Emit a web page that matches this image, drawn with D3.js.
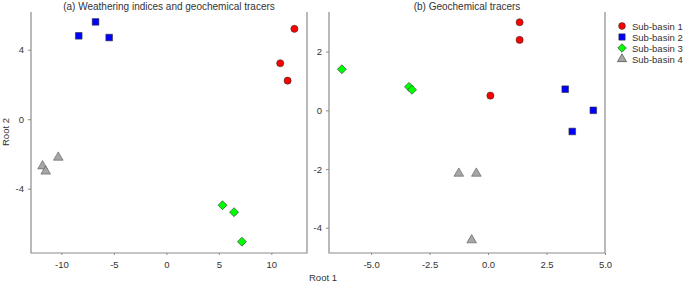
<!DOCTYPE html>
<html>
<head>
<meta charset="utf-8">
<script src="https://cdn.jsdelivr.net/npm/d3@7"></script>
<style>
  body { margin: 0; background: #fff; }
  svg text { font-family: "Liberation Sans", Arial, sans-serif; fill: #333; }
</style>
</head>
<body>
<svg id="chart" width="684" height="288"></svg>
<script>
const width = 684,
  height = 288;

const groups = ["Sub-basin 1", "Sub-basin 2", "Sub-basin 3", "Sub-basin 4"];
const colors = ["#ff0000", "#0000ff", "#00ff00", "#a6a6a6"];
const shapes = [d3.symbolCircle, d3.symbolSquare, d3.symbolSquare, d3.symbolTriangle];
const sizes = [40, 44, 40, 40];
const rotations = [0, 0, 45, 0];

// panel (a): weathering indices and geochemical tracers
const aGroup = [0, 0, 0, 1, 1, 1, 2, 2, 2, 3, 3, 3];
const aRoot1 = [12.2, 10.85, 11.55, -8.35, -6.75, -5.45, 5.35, 6.45, 7.2, -10.3, -11.8, -11.5];
const aRoot2 = [5.2, 3.22, 2.22, 4.8, 5.6, 4.7, -4.95, -5.35, -7.05, -2.2, -2.7, -3.0];

// panel (b): geochemical tracers
const bGroup = [0, 0, 0, 1, 1, 1, 2, 2, 2, 3, 3, 3];
const bRoot1 = [1.35, 1.35, 0.1, 3.3, 4.5, 3.6, -6.25, -3.38, -3.25, -1.25, -0.5, -0.7];
const bRoot2 = [3.0, 2.4, 0.5, 0.72, 0.0, -0.72, 1.4, 0.8, 0.7, -2.15, -2.15, -4.42];

const aXTicks = [-10, -5, 0, 5, 10];
const aYTicks = [-4, 0, 4];
const bXTicks = [-5, -2.5, 0, 2.5, 5];
const bYTicks = [-4, -2, 0, 2];

const svg = d3.select("#chart");

// plain hyphen for negatives, as in the original figure
const intFmt = (d) => d3.format("d")(d).replace("−", "-");
const oneFmt = (d) => d3.format(".1f")(d).replace("−", "-");

function panel(opts) {
  const { left, right, top, bottom, xDomain, yDomain, xTicks, yTicks, xFmt, title } = opts;
  const x = d3.scaleLinear().domain(xDomain).range([left, right]);
  const y = d3.scaleLinear().domain(yDomain).range([bottom, top]);
  const g = svg.append("g");

  // frame: left, bottom, right (no top)
  g.append("path")
    .attr("d", `M${left},${top}V${bottom}H${right}V${top}`)
    .attr("fill", "none")
    .attr("stroke", "#8c8c8c")
    .attr("stroke-width", 1.2);

  g.append("g")
    .attr("transform", `translate(${left},0)`)
    .call(d3.axisLeft(y).tickValues(yTicks).tickSize(3).tickPadding(4).tickFormat(intFmt))
    .call((s) => s.select(".domain").remove())
    .call((s) => s.selectAll("line").attr("stroke", "#8c8c8c"))
    .call((s) => s.selectAll("text").attr("font-size", 9.5).attr("fill", "#333"));

  g.append("g")
    .attr("transform", `translate(0,${bottom})`)
    .call(d3.axisBottom(x).tickValues(xTicks).tickSize(2).tickPadding(6).tickFormat(xFmt))
    .call((s) => s.select(".domain").remove())
    .call((s) => s.selectAll("line").attr("stroke", "#8c8c8c"))
    .call((s) => s.selectAll("text").attr("font-size", 9.5).attr("fill", "#333"));

  g.append("text")
    .attr("x", (left + right) / 2)
    .attr("y", 10)
    .attr("text-anchor", "middle")
    .attr("font-size", 10)
    .text(title);

  return { g, x, y };
}

function points(p, grp, xs, ys) {
  p.g.append("g")
    .selectAll("path")
    .data(grp.map((k, i) => ({ k, x: xs[i], y: ys[i] })))
    .join("path")
    .attr("transform", (d) => `translate(${p.x(d.x)},${p.y(d.y)}) rotate(${rotations[d.k]})`)
    .attr("d", (d) => d3.symbol(shapes[d.k], sizes[d.k])())
    .attr("fill", (d) => colors[d.k])
    .attr("stroke", (d) => (d.k === 3 ? "#555" : "#333"))
    .attr("stroke-width", 0.6);
}

const pa = panel({
  left: 31, right: 307, top: 12, bottom: 253,
  xDomain: [-12.9, 13.4], yDomain: [-7.7, 6.17],
  xTicks: aXTicks, yTicks: aYTicks, xFmt: intFmt,
  title: "(a) Weathering indices and geochemical tracers",
});
points(pa, aGroup, aRoot1, aRoot2);

const pb = panel({
  left: 329, right: 605, top: 12, bottom: 253,
  xDomain: [-6.8, 5.0], yDomain: [-4.86, 3.35],
  xTicks: bXTicks, yTicks: bYTicks, xFmt: oneFmt,
  title: "(b) Geochemical tracers",
});
points(pb, bGroup, bRoot1, bRoot2);

// axis titles
svg.append("text")
  .attr("x", 323)
  .attr("y", 281)
  .attr("text-anchor", "middle")
  .attr("font-size", 9.5)
  .text("Root 1");

svg.append("text")
  .attr("transform", "translate(9,132) rotate(-90)")
  .attr("text-anchor", "middle")
  .attr("font-size", 9.5)
  .text("Root 2");

// legend
const legend = svg.append("g").attr("transform", "translate(622,26)");
const item = legend.selectAll("g")
  .data(groups)
  .join("g")
  .attr("transform", (d, i) => `translate(0,${i * 11})`);
item.append("path")
  .attr("transform", (d, i) => `rotate(${rotations[i]})`)
  .attr("d", (d, i) => d3.symbol(shapes[i], sizes[i] * 0.9)())
  .attr("fill", (d, i) => colors[i])
  .attr("stroke", "#333")
  .attr("stroke-width", 0.6);
item.append("text")
  .attr("x", 10)
  .attr("y", 3.5)
  .attr("font-size", 9.5)
  .text((d) => d);
</script>
</body>
</html>
